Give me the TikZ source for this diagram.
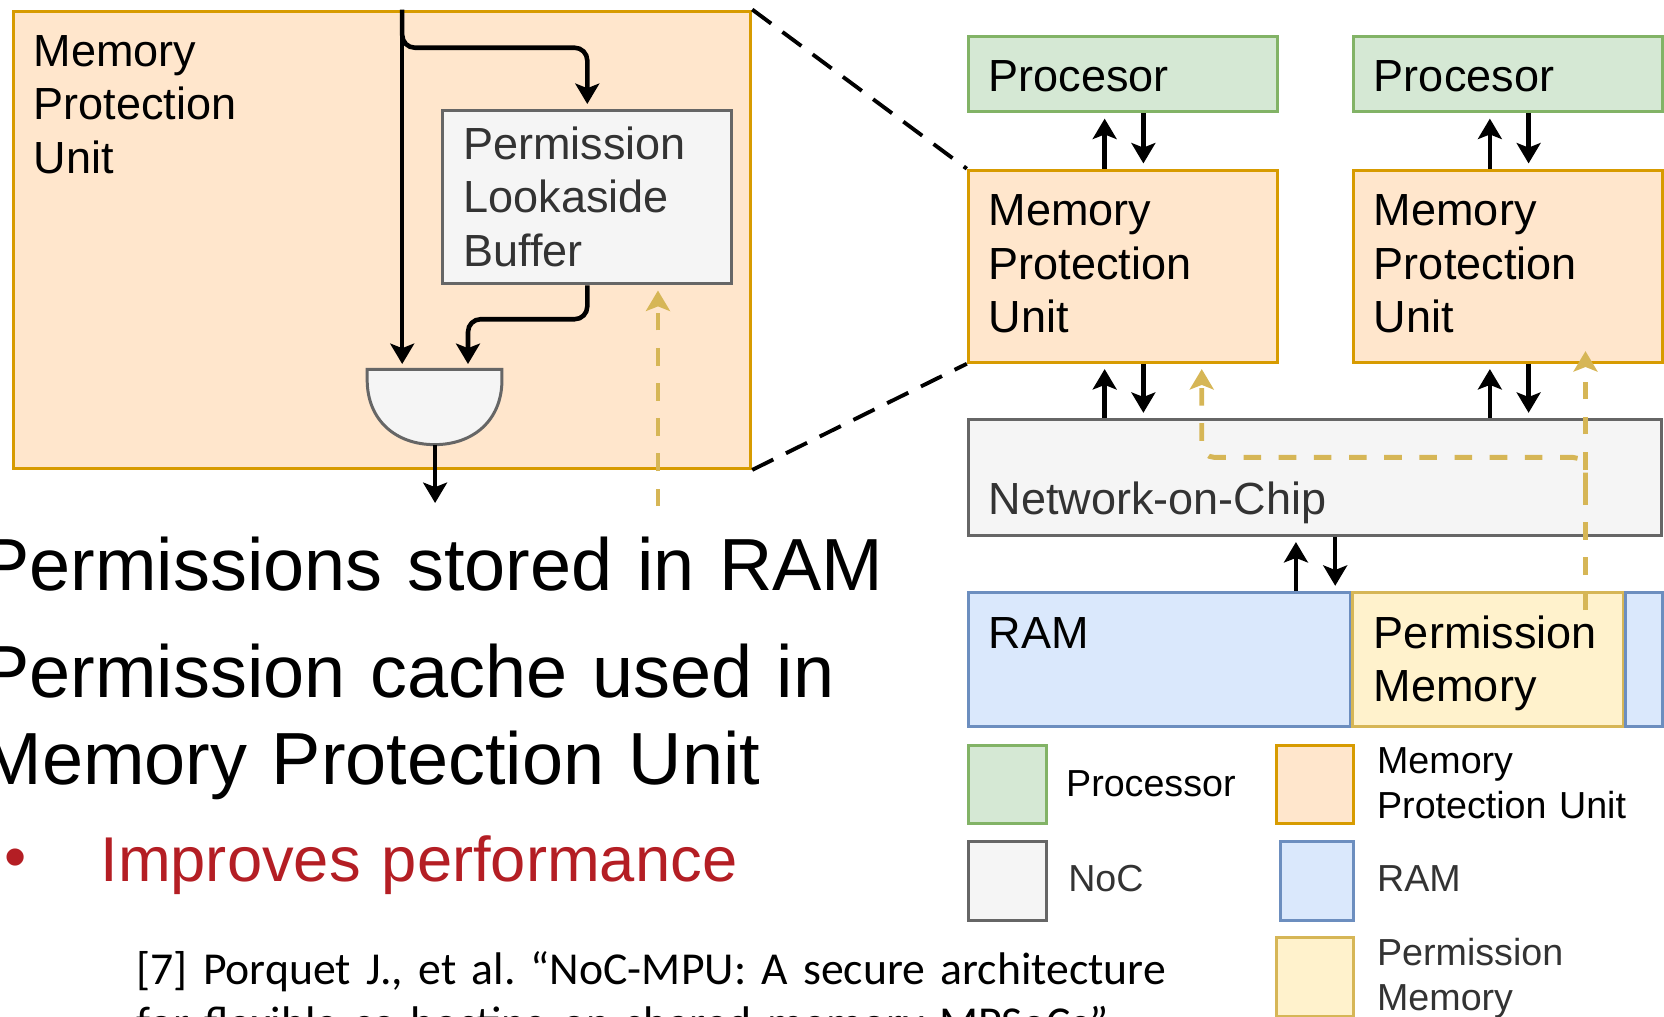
\documentclass[tikz,border=0pt]{standalone}
\usepackage{fontspec}
\setmainfont{Liberation Sans}
\newfontfamily\citefont{Carlito}
\usetikzlibrary{arrows.meta, calc}
\frenchspacing

\definecolor{procfill}{HTML}{D5E8D4}
\definecolor{procline}{HTML}{82B366}
\definecolor{mpufill}{HTML}{FFE6CC}
\definecolor{mpuline}{HTML}{D79B00}
\definecolor{nocfill}{HTML}{F5F5F5}
\definecolor{nocline}{HTML}{666666}
\definecolor{ramfill}{HTML}{DAE8FC}
\definecolor{ramline}{HTML}{6C8EBF}
\definecolor{pmfill}{HTML}{FFF2CC}
\definecolor{pmline}{HTML}{D6B656}
\definecolor{txtgray}{HTML}{333333}
\definecolor{bulletred}{RGB}{180,30,36}

\def\pxu{0.010612cm}

\tikzset{
  box/.style={draw, line width=0.85pt, inner sep=0pt, anchor=north west},
  procbox/.style={box, fill=procfill, draw=procline},
  mpubox/.style={box, fill=mpufill, draw=mpuline},
  nocbox/.style={box, fill=nocfill, draw=nocline},
  rambox/.style={box, fill=ramfill, draw=ramline},
  pmbox/.style={box, fill=pmfill, draw=pmline},
  lbl/.style={anchor=base west, inner sep=0pt, align=left, text width=5cm, font=\fontsize{12.8}{15.25}\selectfont},
  legend/.style={anchor=base west, inner sep=0pt, align=left, text width=4cm, font=\fontsize{10.7}{12.8}\selectfont},
  bigtxt/.style={anchor=base west, inner sep=0pt, align=left, text width=14cm, font=\fontsize{21}{25.4}\selectfont},
  citetxt/.style={anchor=base west, inner sep=0pt, align=left, text width=14cm, font=\citefont\fontsize{13}{15.25}\selectfont},
  sig/.style={line width=1.3pt, shorten >=1.5pt, -{Stealth[length=5.8pt, width=6.8pt, inset=1.3pt]}},
  permarrow/.style={line width=1.4pt, pmline, dash pattern=on 5pt off 5pt, shorten >=1.5pt, -{Stealth[length=5.8pt, width=6.8pt, inset=1.3pt]}},
  zoomline/.style={line width=1.1pt, dash pattern=on 6.7pt off 4pt},
  gatestyle/.style={fill=nocfill, draw=nocline, line width=0.85pt}
}

\begin{document}
\begin{tikzpicture}[x=0.010612cm, y=-0.010612cm]
\useasboundingbox (0,0) rectangle (1568,958);

% zoomed memory protection unit
\node[mpubox, minimum width=695*\pxu, minimum height=431*\pxu] (bigmpu) at (11,9) {};
\node[lbl] (bigmpulbl) at ($(bigmpu.north west)+(20,53.5)$) {Memory\\Protection\\Unit};
\node[nocbox, minimum width=272*\pxu, minimum height=163*\pxu] (plb) at (416,103) {};
\node[lbl, text=txtgray] (plblbl) at ($(plb.north west)+(20,47)$) {Permission\\Lookaside\\Buffer};

% gate
\filldraw[gatestyle] (346,348) -- (473,348) -- (473,358) .. controls (473,396) and (446,419) .. (409.5,419) .. controls (373,419) and (346,396) .. (346,358) -- cycle;
\coordinate (gatein1) at (379,348);
\coordinate (gatein2) at (441,348);
\coordinate (gateout) at (410,419);
\coordinate (mpuout) at (410,474);

\draw[sig] (bigmpu.north -| gatein1) -- (gatein1);
\draw[sig, rounded corners=3.6pt] (bigmpu.north -| gatein1) -- ++(0,36) -| (plb.north);
\draw[sig, rounded corners=3.6pt] (plb.south) -- ++(0,32) -| (gatein2);
\draw[sig, shorten >=0pt] (gateout) -- (mpuout);

\coordinate (pmreq) at (620,477);
\draw[permarrow] (pmreq) -- (pmreq |- plb.south);

% system overview
\node[procbox, minimum width=291*\pxu, minimum height=71*\pxu] (proc1) at (911,33) {};
\node[procbox, minimum width=291*\pxu, minimum height=71*\pxu] (proc2) at (1274,33) {};
\node[mpubox, minimum width=291*\pxu, minimum height=181*\pxu] (mpu1) at (911,159) {};
\node[mpubox, minimum width=291*\pxu, minimum height=181*\pxu] (mpu2) at (1274,159) {};
\node[nocbox, minimum width=653.5*\pxu, minimum height=109*\pxu] (noc) at (911,394) {};
\node[rambox, minimum width=360*\pxu, minimum height=126*\pxu] (ram) at (911,557) {};
\node[pmbox, minimum width=255.5*\pxu, minimum height=126*\pxu] (pmem) at (1273,557) {};
\node[rambox, minimum width=35*\pxu, minimum height=126*\pxu] (ram2) at (1530.5,557) {};

\node[lbl] (proc1lbl) at ($(proc1.north west)+(20,53)$) {Procesor};
\node[lbl] (proc2lbl) at ($(proc2.north west)+(20,53)$) {Procesor};
\node[lbl] (mpu1lbl) at ($(mpu1.north west)+(20,53.7)$) {Memory\\Protection\\Unit};
\node[lbl] (mpu2lbl) at ($(mpu2.north west)+(20,53.7)$) {Memory\\Protection\\Unit};
\node[lbl, text=txtgray] (noclbl) at ($(noc.north west)+(20,90.6)$) {Network-on-Chip};
\node[lbl] (ramlbl) at ($(ram.north west)+(20,53.7)$) {RAM};
\node[lbl] (pmemlbl) at ($(pmem.north west)+(21,53.7)$) {Permission\\Memory};

\draw[zoomline] (bigmpu.north east) -- (mpu1.north west);
\draw[zoomline] (bigmpu.south east) -- (mpu1.south west);

\coordinate (up1) at ($(proc1.south)+(-17,0)$);
\coordinate (dn1) at ($(proc1.south)+(19.5,0)$);
\coordinate (up2) at ($(proc2.south)+(-17,0)$);
\coordinate (dn2) at ($(proc2.south)+(19.5,0)$);
\coordinate (up3) at ($(noc.south)+(-18,0)$);
\coordinate (dn3) at ($(noc.south)+(19,0)$);

\draw[sig] (up1 |- mpu1.north) -- (up1);
\draw[sig] (dn1) -- (dn1 |- mpu1.north);
\draw[sig] (up1 |- noc.north) -- (up1 |- mpu1.south);
\draw[sig] (dn1 |- mpu1.south) -- (dn1 |- noc.north);
\draw[sig] (up2 |- mpu2.north) -- (up2);
\draw[sig] (dn2) -- (dn2 |- mpu2.north);
\draw[sig] (up2 |- noc.north) -- (up2 |- mpu2.south);
\draw[sig] (dn2 |- mpu2.south) -- (dn2 |- noc.north);
\draw[sig] (up3 |- ram.north) -- (up3);
\draw[sig] (dn3) -- (dn3 |- ram.north);

% permission lookups
\coordinate (pmsrc) at (1494,575);
\coordinate (split) at (1494,462);
\coordinate (mpu1pm) at ($(mpu1.south)+(74.5,0)$);
\draw[permarrow, shorten >=-3.6pt] (pmsrc) -- (pmsrc |- mpu2.south);
\draw[permarrow, rounded corners=3.6pt] (split) -- ++(0,-31) -| (mpu1pm);

% legend
\node[procbox, minimum width=74*\pxu, minimum height=74*\pxu] (lgproc) at (911,701) {};
\node[mpubox, minimum width=73*\pxu, minimum height=74*\pxu] (lgmpu) at (1201,701) {};
\node[nocbox, minimum width=74*\pxu, minimum height=74*\pxu] (lgnoc) at (911,791.6) {};
\node[rambox, minimum width=68.5*\pxu, minimum height=74*\pxu] (lgram) at (1205.5,791.6) {};
\node[pmbox, minimum width=73*\pxu, minimum height=74*\pxu] (lgpm) at (1201,882) {};
\node[legend] (lgproclbl) at (1004,750.7) {Processor};
\node[legend] (lgmpulbl) at (1297,728.7) {Memory\\Protection Unit};
\node[legend, text=txtgray] (lgnoclbl) at (1006,840) {NoC};
\node[legend, text=txtgray] (lgramlbl) at (1297,840) {RAM};
\node[legend, text=txtgray] (lgpmlbl) at (1297,909.4) {Permission\\Memory};

% slide text
\node[bigtxt] (item1) at (-19,556) {Permissions stored in RAM};
\node[bigtxt] (item2) at (-19,657) {Permission cache used in\\[-0.7pt]Memory Protection Unit};
\node[bigtxt, text=bulletred, font=\fontsize{18}{22}\selectfont] (dot) at (4,828) {\textbullet};
\node[bigtxt, text=bulletred, font=\fontsize{18}{22}\selectfont] (item3) at (94,831) {Improves performance};
\node[citetxt] (cite) at (128,928) {[7] Porquet J., et al. “NoC-MPU: A secure architecture\\for flexible co-hosting on shared memory MPSoCs”};
\end{tikzpicture}
\end{document}
